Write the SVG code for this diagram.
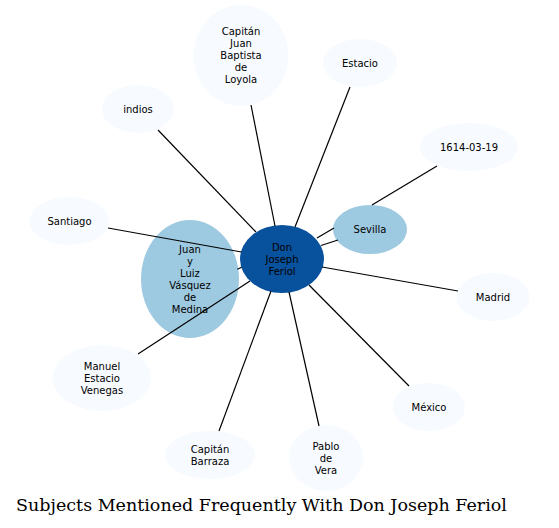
<svg xmlns="http://www.w3.org/2000/svg" width="559" height="528" viewBox="0 0 559 528">
<style>
.n text{font-family:"DejaVu Sans",sans-serif;font-size:10px;text-anchor:middle;fill:#000}
.lt{fill:#f7fbff}
.md{fill:#9ecae1}
.dk{fill:#08519c}
#edges line{stroke:#000;stroke-width:1.2}
.title{font-family:"DejaVu Serif",serif;font-size:17.5px;text-anchor:middle;fill:#000}
</style>
<rect width="559" height="528" fill="#fff"/>
<g id="node-juan" class="n"><ellipse class="md" cx="190" cy="279" rx="49" ry="59"/>
<text x="190" y="252.5">Juan</text><text x="190" y="264.5">y</text><text x="190" y="276.5">Luiz</text><text x="190" y="288.5">Vásquez</text><text x="190" y="300.5">de</text><text x="190" y="312.5">Medina</text></g>
<g id="node-center" class="n"><ellipse class="dk" cx="282" cy="259" rx="42" ry="34"/>
<text x="282" y="250.5">Don</text><text x="282" y="262.5">Joseph</text><text x="282" y="274.5">Feriol</text></g>
<g id="node-sevilla" class="n"><ellipse class="md" cx="370" cy="229.5" rx="37" ry="24.5"/>
<text x="370" y="233">Sevilla</text></g>
<g id="node-loyola" class="n"><ellipse class="lt" cx="241" cy="55.5" rx="47.5" ry="50.5"/>
<text x="241" y="35">Capitán</text><text x="241" y="47">Juan</text><text x="241" y="59">Baptista</text><text x="241" y="71">de</text><text x="241" y="83">Loyola</text></g>
<g id="node-estacio" class="n"><ellipse class="lt" cx="360" cy="63" rx="37" ry="24"/>
<text x="360" y="66.5">Estacio</text></g>
<g id="node-indios" class="n"><ellipse class="lt" cx="138" cy="109" rx="36" ry="24"/>
<text x="138" y="112.5">indios</text></g>
<g id="node-date" class="n"><ellipse class="lt" cx="469" cy="147" rx="49" ry="24"/>
<text x="469" y="150.5">1614-03-19</text></g>
<g id="node-santiago" class="n"><ellipse class="lt" cx="69.5" cy="221" rx="40" ry="24"/>
<text x="69.5" y="224.5">Santiago</text></g>
<g id="node-madrid" class="n"><ellipse class="lt" cx="493" cy="297" rx="36.5" ry="24"/>
<text x="493" y="300.5">Madrid</text></g>
<g id="node-manuel" class="n"><ellipse class="lt" cx="102" cy="378" rx="49" ry="33"/>
<text x="102" y="369.5">Manuel</text><text x="102" y="381.5">Estacio</text><text x="102" y="393.5">Venegas</text></g>
<g id="node-mexico" class="n"><ellipse class="lt" cx="429" cy="407" rx="36" ry="24"/>
<text x="429" y="410.5">México</text></g>
<g id="node-barraza" class="n"><ellipse class="lt" cx="210" cy="455" rx="45" ry="24"/>
<text x="210" y="452.5">Capitán</text><text x="210" y="464.5">Barraza</text></g>
<g id="node-pablo" class="n"><ellipse class="lt" cx="326" cy="458" rx="37" ry="33"/>
<text x="326" y="449.5">Pablo</text><text x="326" y="461.5">de</text><text x="326" y="473.5">Vera</text></g>
<g id="edges">
<line x1="275" y1="226" x2="251" y2="105"/>
<line x1="295" y1="227" x2="350" y2="87"/>
<line x1="256" y1="232" x2="158" y2="130"/>
<line x1="372" y1="205" x2="437" y2="166"/>
<line x1="317" y1="238" x2="334" y2="228"/>
<line x1="321" y1="245.5" x2="338" y2="240"/>
<line x1="241.5" y1="252" x2="108" y2="228"/>
<line x1="322" y1="267" x2="458" y2="291"/>
<line x1="250" y1="281" x2="138" y2="354"/>
<line x1="271" y1="291" x2="219" y2="431"/>
<line x1="289" y1="292" x2="319" y2="426"/>
<line x1="309" y1="285" x2="409" y2="386"/>
<line x1="241.7" y1="267.3" x2="237.3" y2="269.3"/>
</g>
<text class="title" x="261.5" y="511">Subjects Mentioned Frequently With Don Joseph Feriol</text>
</svg>
